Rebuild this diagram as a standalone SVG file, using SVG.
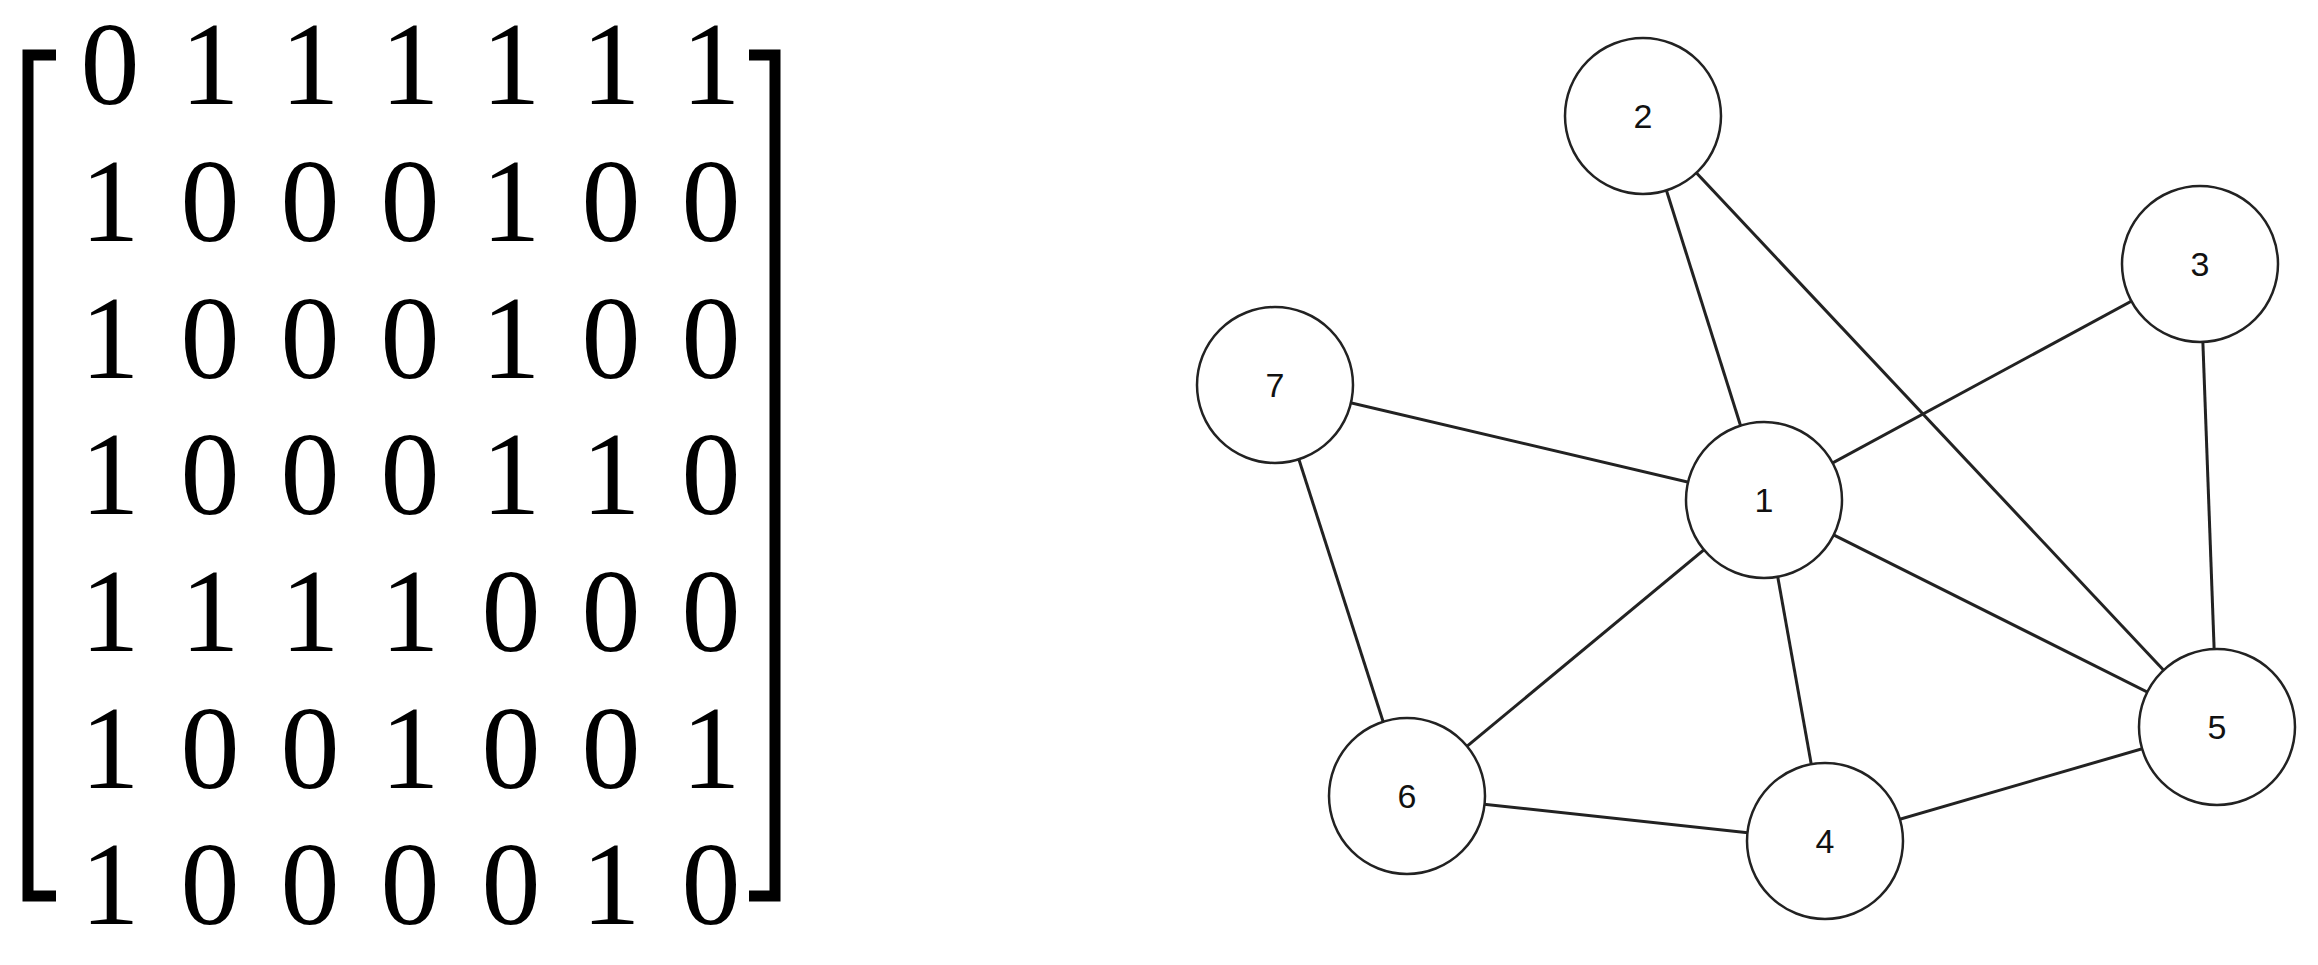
<svg xmlns="http://www.w3.org/2000/svg" width="2318" height="965" viewBox="0 0 2318 965">
<style>
.m{font-family:"Liberation Serif",serif;font-size:118px;fill:#000;text-anchor:middle}
.n circle{fill:#fff;stroke:#222;stroke-width:2.5}
.n text{font-family:"Liberation Sans",Arial,sans-serif;font-size:34px;fill:#111;text-anchor:middle}
.e line{stroke:#222;stroke-width:3}
</style>
<rect width="2318" height="965" fill="#fff"/>
<g id="matrix">
<path d="M56,55 H28 V896 H56 M749,55 H775 V896 H749" fill="none" stroke="#000" stroke-width="11"/>
<g class="m">
<text y="104"><tspan x="110">0</tspan><tspan x="210">1</tspan><tspan x="310">1</tspan><tspan x="410">1</tspan><tspan x="511">1</tspan><tspan x="611">1</tspan><tspan x="711">1</tspan></text>
<text y="241"><tspan x="110">1</tspan><tspan x="210">0</tspan><tspan x="310">0</tspan><tspan x="410">0</tspan><tspan x="511">1</tspan><tspan x="611">0</tspan><tspan x="711">0</tspan></text>
<text y="378"><tspan x="110">1</tspan><tspan x="210">0</tspan><tspan x="310">0</tspan><tspan x="410">0</tspan><tspan x="511">1</tspan><tspan x="611">0</tspan><tspan x="711">0</tspan></text>
<text y="514"><tspan x="110">1</tspan><tspan x="210">0</tspan><tspan x="310">0</tspan><tspan x="410">0</tspan><tspan x="511">1</tspan><tspan x="611">1</tspan><tspan x="711">0</tspan></text>
<text y="651"><tspan x="110">1</tspan><tspan x="210">1</tspan><tspan x="310">1</tspan><tspan x="410">1</tspan><tspan x="511">0</tspan><tspan x="611">0</tspan><tspan x="711">0</tspan></text>
<text y="788"><tspan x="110">1</tspan><tspan x="210">0</tspan><tspan x="310">0</tspan><tspan x="410">1</tspan><tspan x="511">0</tspan><tspan x="611">0</tspan><tspan x="711">1</tspan></text>
<text y="924"><tspan x="110">1</tspan><tspan x="210">0</tspan><tspan x="310">0</tspan><tspan x="410">0</tspan><tspan x="511">0</tspan><tspan x="611">1</tspan><tspan x="711">0</tspan></text>
</g>
</g>
<g id="connectors" class="e">
<line x1="1764" y1="500" x2="1643" y2="116"/>
<line x1="1764" y1="500" x2="2200" y2="264"/>
<line x1="1764" y1="500" x2="1825" y2="841"/>
<line x1="1764" y1="500" x2="2217" y2="727"/>
<line x1="1764" y1="500" x2="1407" y2="796"/>
<line x1="1764" y1="500" x2="1275" y2="385"/>
<line x1="1643" y1="116" x2="2217" y2="727"/>
<line x1="2200" y1="264" x2="2217" y2="727"/>
<line x1="1825" y1="841" x2="2217" y2="727"/>
<line x1="1825" y1="841" x2="1407" y2="796"/>
<line x1="1407" y1="796" x2="1275" y2="385"/>
</g>
<g id="node1" class="n"><circle cx="1764" cy="500" r="78"/><text x="1764" y="512">1</text></g>
<g id="node2" class="n"><circle cx="1643" cy="116" r="78"/><text x="1643" y="128">2</text></g>
<g id="node3" class="n"><circle cx="2200" cy="264" r="78"/><text x="2200" y="276">3</text></g>
<g id="node4" class="n"><circle cx="1825" cy="841" r="78"/><text x="1825" y="853">4</text></g>
<g id="node5" class="n"><circle cx="2217" cy="727" r="78"/><text x="2217" y="739">5</text></g>
<g id="node6" class="n"><circle cx="1407" cy="796" r="78"/><text x="1407" y="808">6</text></g>
<g id="node7" class="n"><circle cx="1275" cy="385" r="78"/><text x="1275" y="397">7</text></g>
</svg>
